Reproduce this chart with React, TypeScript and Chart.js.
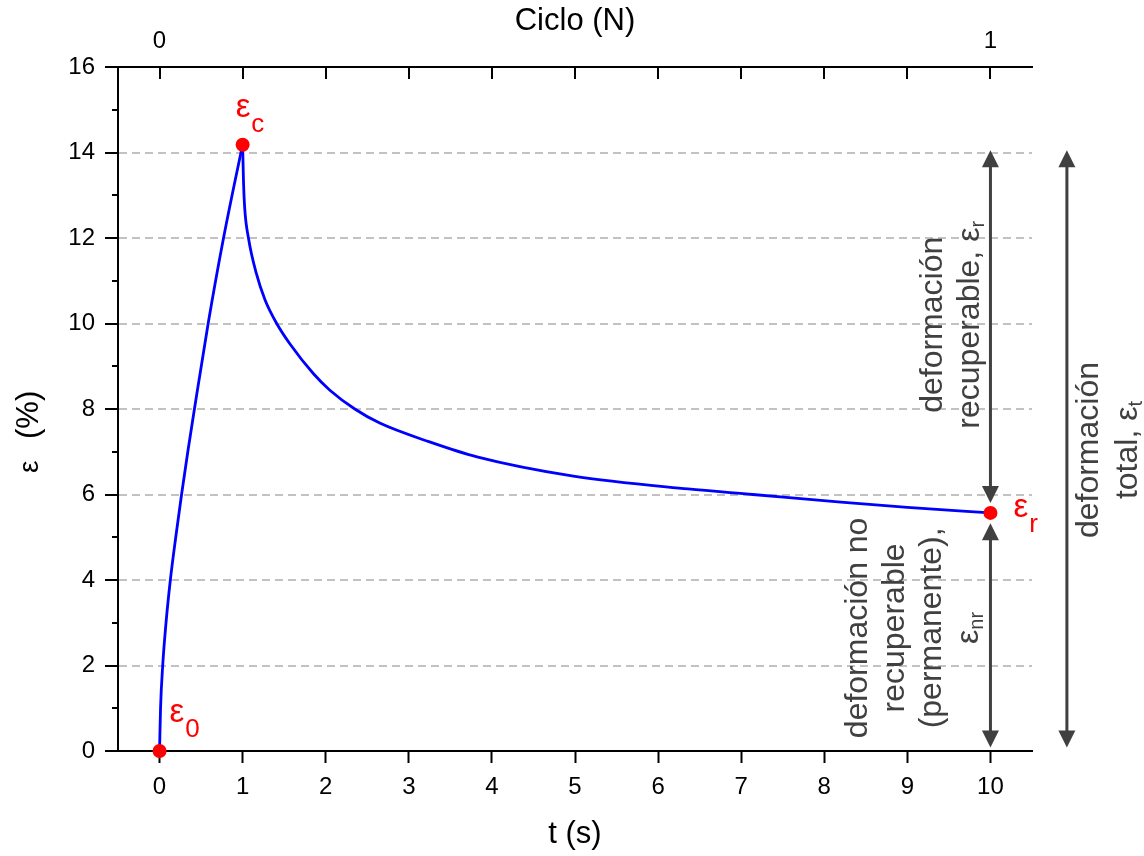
import React, { useEffect, useRef } from 'react';
import { Chart, registerables } from 'chart.js';

Chart.register(...registerables);

const FONT = '"Liberation Sans", Arial, Helvetica, sans-serif';

// ---- data ----
const riseT = [0, 0.012, 0.038, 0.078, 0.13, 0.195, 0.265, 0.34, 0.42, 0.585, 0.77, 0.98, 1.0];
const riseV = [0, 1.0, 2.0, 3.0, 4.0, 5.0, 6.0, 7.0, 8.0, 10.0, 12.0, 14.0, 14.18];
const decayT = [1.0, 1.01, 1.025, 1.07, 1.165, 1.27, 1.41, 1.57, 1.85, 2.05, 2.35, 2.65, 3.25, 3.82, 4.98, 6.36, 7.14, 8.2, 9.0, 10.0];
const decayV = [14.18, 13.35, 12.7, 12.0, 11.17, 10.55, 10.0, 9.52, 8.83, 8.44, 8.0, 7.67, 7.23, 6.88, 6.43, 6.13, 6.0, 5.82, 5.7, 5.57];
const keyT = [0, 1, 10];
const keyV = [0, 14.18, 5.57];
const keyMain = ['ε', 'ε', 'ε'];
const keySub = ['0', 'c', 'r'];

const xTickValues = [0, 1, 2, 3, 4, 5, 6, 7, 8, 9, 10];
const yTickValues = [0, 2, 4, 6, 8, 10, 12, 14, 16];
const yMinorValues = [1, 3, 5, 7, 9, 11, 13, 15];
const cycleTickValues = [0, 0.1, 0.2, 0.3, 0.4, 0.5, 0.6, 0.7, 0.8, 0.9, 1.0];
const cycleTickLabels = ['0', '', '', '', '', '', '', '', '', '', '1'];

// double arrows (data coords)
const arrowX = [10, 10, 10.92];
const arrowFrom = [14.05, 5.33, 14.05];
const arrowTo = [5.8, 0.08, 0.08];

// rotated annotation texts
const recupLines = [['deformación', ''], ['recuperable, ε', 'r']];
const totalLines = [['deformación', ''], ['total, ε', 't']];
const noRecupLines = [['deformación no', ''], ['recuperable', ''], ['(permanente),', ''], ['ε', 'nr']];

const xTitle = 't (s)';
const topTitle = 'Ciclo (N)';
const yTitleSymbol = 'ε';
const yTitleUnit = '(%)';

type Line = string[];

function drawRotatedBlock(
  ctx: CanvasRenderingContext2D,
  lines: Line[],
  firstBaselineX: number,
  centerY: number,
  spacing: number,
  color: string
) {
  ctx.save();
  ctx.fillStyle = color;
  ctx.textBaseline = 'alphabetic';
  ctx.textAlign = 'left';
  lines.forEach((ln, i) => {
    const [main, sub] = ln;
    ctx.font = `32px ${FONT}`;
    const wMain = ctx.measureText(main).width;
    ctx.font = `20px ${FONT}`;
    const wSub = sub ? ctx.measureText(sub).width : 0;
    const total = wMain + wSub;
    ctx.save();
    ctx.translate(firstBaselineX + i * spacing, centerY);
    ctx.rotate(-Math.PI / 2);
    ctx.font = `32px ${FONT}`;
    ctx.fillText(main, -total / 2, 0);
    if (sub) {
      ctx.font = `20px ${FONT}`;
      ctx.fillText(sub, -total / 2 + wMain, 5);
    }
    ctx.restore();
  });
  ctx.restore();
}

function drawArrowHead(ctx: CanvasRenderingContext2D, x: number, tipY: number, dir: number) {
  // dir = -1 pointing up, +1 pointing down
  const L = 17;
  const W = 8.5;
  ctx.beginPath();
  ctx.moveTo(x, tipY);
  ctx.lineTo(x - W, tipY - dir * L);
  ctx.lineTo(x + W, tipY - dir * L);
  ctx.closePath();
  ctx.fill();
}

const overlayPlugin = {
  id: 'overlay',
  afterDraw(chart: any) {
    const ctx: CanvasRenderingContext2D = chart.ctx;
    const xs = chart.scales.x;
    const ys = chart.scales.y;
    const x2 = chart.scales.x2;
    const area = chart.chartArea;

    ctx.save();
    // minor y ticks
    ctx.strokeStyle = '#000';
    ctx.lineWidth = 2;
    yMinorValues.forEach((v) => {
      const py = Math.round(ys.getPixelForValue(v));
      ctx.beginPath();
      ctx.moveTo(area.left - 6, py);
      ctx.lineTo(area.left, py);
      ctx.stroke();
    });
    // inward top ticks
    cycleTickValues.forEach((v) => {
      const px = Math.round(x2.getPixelForValue(v));
      ctx.beginPath();
      ctx.moveTo(px, area.top);
      ctx.lineTo(px, area.top + 12);
      ctx.stroke();
    });

    // y title
    ctx.fillStyle = '#000';
    ctx.save();
    ctx.translate(38, 473);
    ctx.rotate(-Math.PI / 2);
    ctx.textBaseline = 'alphabetic';
    ctx.textAlign = 'left';
    ctx.font = `28px ${FONT}`;
    ctx.fillText(yTitleSymbol, 0, 0);
    ctx.font = `31px ${FONT}`;
    ctx.fillText(yTitleUnit, 34, 0);
    ctx.restore();

    // arrows
    ctx.strokeStyle = '#404040';
    ctx.fillStyle = '#404040';
    ctx.lineWidth = 3;
    arrowX.forEach((ax, i) => {
      const px = xs.getPixelForValue(ax);
      const yTop = ys.getPixelForValue(arrowFrom[i]);
      const yBot = ys.getPixelForValue(arrowTo[i]);
      ctx.beginPath();
      ctx.moveTo(px, yTop + 12);
      ctx.lineTo(px, yBot - 12);
      ctx.stroke();
      drawArrowHead(ctx, px, yTop, -1);
      drawArrowHead(ctx, px, yBot, 1);
    });

    // rotated texts
    drawRotatedBlock(ctx, recupLines, 942, ys.getPixelForValue(9.97), 37, '#404040');
    drawRotatedBlock(ctx, totalLines, 1098, ys.getPixelForValue(7.04), 39, '#404040');
    drawRotatedBlock(ctx, noRecupLines, 867, ys.getPixelForValue(2.88), 37, '#404040');

    // red key labels
    const offs = [
      [10, -29],
      [-7, -28],
      [23, 4],
    ];
    ctx.fillStyle = '#ff0000';
    ctx.textAlign = 'left';
    ctx.textBaseline = 'alphabetic';
    keyT.forEach((t, i) => {
      const px = xs.getPixelForValue(t) + offs[i][0];
      const py = ys.getPixelForValue(keyV[i]) + offs[i][1];
      ctx.font = `33px ${FONT}`;
      ctx.fillText(keyMain[i], px, py);
      const w = ctx.measureText(keyMain[i]).width;
      ctx.font = `26px ${FONT}`;
      ctx.fillText(keySub[i], px + w + 1, py + 15);
    });
    ctx.restore();
  },
};

export default function App() {
  const ref = useRef<HTMLCanvasElement | null>(null);

  useEffect(() => {
    if (!ref.current) return;
    const tickFont = { family: FONT, size: 24 };
    const chart = new Chart(ref.current, {
      type: 'line',
      data: {
        datasets: [
          {
            label: 'puntos',
            data: keyT.map((t, i) => ({ x: t, y: keyV[i] })),
            showLine: false,
            pointRadius: 7,
            pointHoverRadius: 7,
            pointBackgroundColor: '#ff0000',
            pointBorderColor: '#ff0000',
            pointBorderWidth: 0,
            borderColor: '#ff0000',
            clip: false,
          } as any,
          {
            label: 'carga',
            data: riseT.map((t, i) => ({ x: t, y: riseV[i] })),
            borderColor: '#0000ff',
            borderWidth: 2.8,
            pointRadius: 0,
            fill: false,
            cubicInterpolationMode: 'monotone',
          },
          {
            label: 'descarga',
            data: decayT.map((t, i) => ({ x: t, y: decayV[i] })),
            borderColor: '#0000ff',
            borderWidth: 2.8,
            pointRadius: 0,
            fill: false,
            cubicInterpolationMode: 'monotone',
          },
        ],
      },
      options: {
        responsive: false,
        animation: false,
        events: [],
        layout: { padding: { left: 0, right: 112, top: 0, bottom: 0 } },
        plugins: { legend: { display: false }, tooltip: { enabled: false } },
        scales: {
          x: {
            type: 'linear',
            position: 'bottom',
            min: -0.5,
            max: 10.5,
            afterBuildTicks: (s: any) => {
              s.ticks = xTickValues.map((v) => ({ value: v }));
            },
            afterFit: (s: any) => {
              s.height = 105;
            },
            grid: {
              display: true,
              drawOnChartArea: false,
              drawTicks: true,
              tickLength: 12,
              tickColor: '#000',
              tickWidth: 2,
            },
            border: { display: true, color: '#000', width: 2 },
            ticks: {
              font: tickFont,
              color: '#000',
              padding: 10,
              maxRotation: 0,
              autoSkip: false,
            },
            title: {
              display: true,
              text: xTitle,
              font: { family: FONT, size: 31 },
              color: '#000',
              padding: { top: 0, bottom: 3 },
            },
          },
          x2: {
            type: 'linear',
            position: 'top',
            min: -0.05,
            max: 1.05,
            afterBuildTicks: (s: any) => {
              s.ticks = cycleTickValues.map((v) => ({ value: v }));
            },
            afterFit: (s: any) => {
              s.height = 67;
            },
            grid: { display: true, drawOnChartArea: false, drawTicks: false },
            border: { display: true, color: '#000', width: 2 },
            ticks: {
              font: tickFont,
              color: '#000',
              padding: 11,
              maxRotation: 0,
              autoSkip: false,
              callback: (_v: any, i: number) => cycleTickLabels[i],
            },
            title: {
              display: true,
              text: topTitle,
              font: { family: FONT, size: 31 },
              color: '#000',
              padding: { top: 3, bottom: 0 },
            },
          },
          y: {
            type: 'linear',
            position: 'left',
            min: 0,
            max: 16,
            afterBuildTicks: (s: any) => {
              s.ticks = yTickValues.map((v) => ({ value: v }));
            },
            afterFit: (s: any) => {
              s.width = 118;
            },
            grid: {
              display: true,
              drawOnChartArea: true,
              color: (c: any) =>
                c.tick && (c.tick.value === 0 || c.tick.value === 16) ? 'rgba(0,0,0,0)' : '#c2c2c2',
              lineWidth: 2,
              drawTicks: true,
              tickLength: 13,
              tickColor: '#000',
              tickWidth: 2,
            },
            border: { display: true, color: '#000', width: 2, dash: [8, 5] },
            ticks: {
              font: tickFont,
              color: '#000',
              padding: 10,
              autoSkip: false,
            },
            title: { display: false },
          },
        },
      },
      plugins: [overlayPlugin],
    });
    return () => chart.destroy();
  }, []);

  return (
    <div style={{ position: 'absolute', left: 0, top: 0, width: 1144, height: 856, background: '#fff' }}>
      <canvas ref={ref} width={1144} height={856} style={{ display: 'block' }} />
    </div>
  );
}
